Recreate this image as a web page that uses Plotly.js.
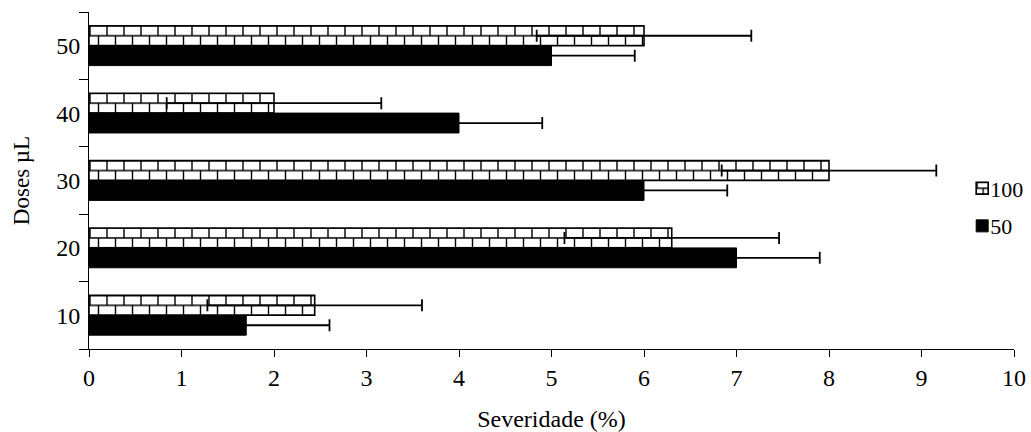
<!DOCTYPE html>
<html><head><meta charset="utf-8">
<script src="https://cdn.plot.ly/plotly-3.0.1.min.js"></script>
<style>html,body{margin:0;padding:0;background:#fff}</style>
</head><body>
<div id="chart" style="width:1031px;height:432px"></div>
<script>
// ---- data ----
const doses = ["10", "20", "30", "40", "50"];
const sev50 = [1.7, 7.0, 6.0, 4.0, 5.0];
const err50 = [0.9, 0.9, 0.9, 0.9, 0.9];
const sev100 = [2.44, 6.3, 8.0, 2.0, 6.0];
const err100 = [1.16, 1.16, 1.16, 1.16, 1.16];
const seriesNames = ["50", "100"];
const xTicks = [0, 1, 2, 3, 4, 5, 6, 7, 8, 9, 10];

const FONT = "Liberation Serif, 'Times New Roman', Times, serif";

const traces = [
  {
    type: "bar", orientation: "h", name: seriesNames[0], legendgroup: "g50", legendrank: 2,
    y: doses, x: sev50,
    marker: { color: "#000", line: { color: "#000", width: 1 } },
    error_x: { type: "data", array: err50, visible: true, color: "#000", thickness: 1.8, width: 6 },
    hoverinfo: "none"
  },
  {
    type: "bar", orientation: "h", name: seriesNames[1], legendgroup: "g100", legendrank: 1,
    y: doses, x: sev100,
    marker: { color: "#fff", line: { color: "#000", width: 1.6 },
              pattern: { shape: "+", fgcolor: "#000", bgcolor: "#fff", size: 10, solidity: 0.15 } },
    error_x: { type: "data", array: err100, visible: true, color: "#000", thickness: 1.8, width: 6 },
    hoverinfo: "none"
  }
];

const layout = {
  width: 1031, height: 432,
  margin: { l: 89, r: 17, t: 12, b: 83, autoexpand: false },
  paper_bgcolor: "#fff", plot_bgcolor: "#fff",
  font: { family: FONT, color: "#000", size: 22 },
  barmode: "group", bargap: 0.41, bargroupgap: 0,
  showlegend: true,
  legend: {
    x: 0.931, xanchor: "left", y: 0.42, yanchor: "middle",
    font: { family: FONT, size: 22, color: "#000" },
    traceorder: "grouped", tracegroupgap: 6,
    bgcolor: "rgba(0,0,0,0)", itemclick: false
  },
  xaxis: {
    range: [0, 10], tickmode: "array", tickvals: xTicks, ticktext: xTicks.map(String),
    ticks: "outside", ticklen: 7, tickwidth: 1, tickcolor: "#000",
    showline: true, linecolor: "#000", linewidth: 1,
    showgrid: false, zeroline: false,
    tickfont: { family: FONT, size: 24, color: "#000" },
    title: { text: "Severidade (%)", font: { family: FONT, size: 24, color: "#000" }, standoff: 21 }
  },
  yaxis: {
    type: "category", categoryorder: "array", categoryarray: doses,
    range: [-0.5, 4.5], tickson: "boundaries",
    ticks: "outside", ticklen: 9, tickwidth: 1, tickcolor: "#000",
    showline: true, linecolor: "#000", linewidth: 1,
    showgrid: false, zeroline: false, ticklabelstandoff: 3,
    tickfont: { family: FONT, size: 24, color: "#000" },
    title: { text: "Doses µL", font: { family: FONT, size: 23, color: "#000" }, standoff: 20 }
  }
};

const NS = "http://www.w3.org/2000/svg";
let brickCount = 0;
function brickFill(path, W, defs) {
  const bb = path.getBBox();
  const r = bb.height / 2;
  const id = "brick" + (brickCount++);
  const p = document.createElementNS(NS, "pattern");
  p.setAttribute("id", id);
  p.setAttribute("patternUnits", "userSpaceOnUse");
  p.setAttribute("x", bb.x); p.setAttribute("y", bb.y);
  p.setAttribute("width", W); p.setAttribute("height", 2 * r);
  const rect = document.createElementNS(NS, "rect");
  rect.setAttribute("width", W); rect.setAttribute("height", 2 * r); rect.setAttribute("fill", "#fff");
  const lines = document.createElementNS(NS, "path");
  lines.setAttribute("d",
    "M0,0H" + W + "M0," + r + "H" + W + "M0," + (2 * r) + "H" + W +
    "M1,0V" + r + "M" + (W / 2 + 1) + "," + r + "V" + (2 * r));
  lines.setAttribute("stroke", "#000");
  lines.setAttribute("stroke-width", "1.4");
  lines.setAttribute("fill", "none");
  p.appendChild(rect); p.appendChild(lines);
  defs.appendChild(p);
  path.style.fill = "url(#" + id + ")";
}

const gd = document.getElementById("chart");
Plotly.newPlot(gd, traces, layout, { staticPlot: true, displayModeBar: false }).then(() => {
  const svg = gd.querySelector("svg.main-svg");
  let defs = svg.querySelector("defs");
  if (!defs) { defs = document.createElementNS(NS, "defs"); svg.insertBefore(defs, svg.firstChild); }
  const barTraces = gd.querySelectorAll(".barlayer .trace.bars");
  if (barTraces[1]) barTraces[1].querySelectorAll(".point path").forEach(pa => brickFill(pa, 17, defs));
  gd.querySelectorAll(".legend .traces").forEach(lt => {
    const txt = lt.querySelector(".legendtext");
    const pts = lt.querySelector(".legendpoints");
    if (pts) pts.setAttribute("transform", "translate(12,0)");
    if (txt && txt.textContent.trim() === seriesNames[1]) {
      lt.querySelectorAll(".legendpoints path").forEach(pa => brickFill(pa, 12, defs));
    }
  });
});
</script>
</body></html>
